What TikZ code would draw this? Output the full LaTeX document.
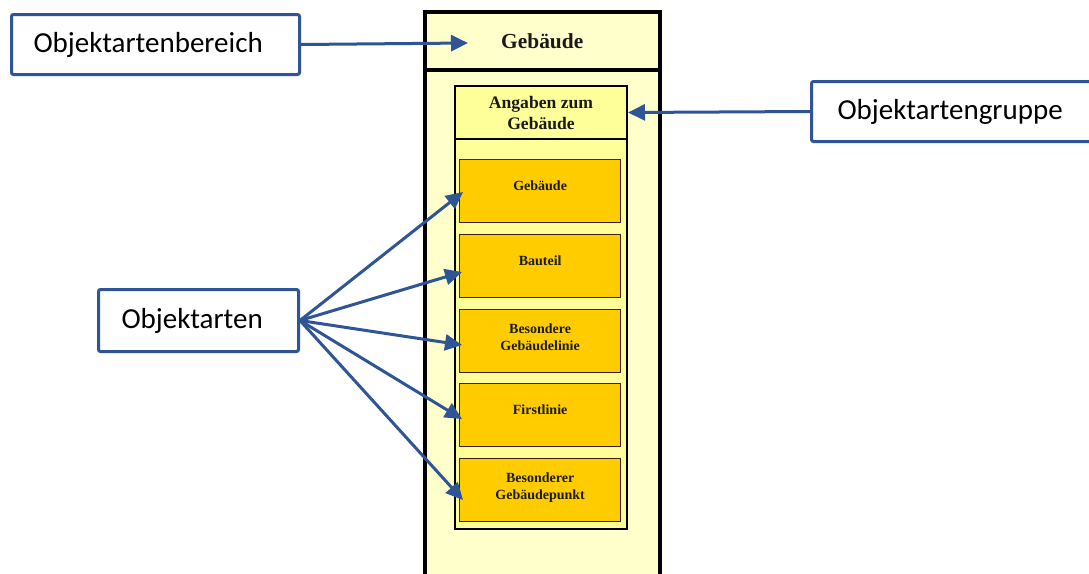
\documentclass[tikz,border=0pt]{standalone}
\usepackage{fontspec}
\setmainfont{Liberation Serif}
\newfontfamily\calib{Carlito}
\usetikzlibrary{arrows.meta}
\definecolor{lblue}{HTML}{2F5597}
\definecolor{paleY}{HTML}{FFFFCC}
\definecolor{midY}{HTML}{FFFF99}
\definecolor{orng}{HTML}{FFCC00}
\definecolor{txtc}{HTML}{1A1A1A}
\begin{document}
\begin{tikzpicture}[x=1pt,y=-1pt,
  outerbox/.style={draw=black,line width=3.5pt,fill=paleY,anchor=north west,inner sep=0pt},
  hdrbox/.style={draw=black,line width=3.5pt,fill=paleY,anchor=north west,inner sep=0pt,text=txtc,font=\bfseries\fontsize{21.4}{25}\selectfont},
  grpbox/.style={draw=black,line width=2pt,fill=midY,anchor=north west,inner sep=0pt},
  grphdr/.style={draw=black,line width=2pt,fill=midY,anchor=north west,inner sep=0pt,align=center,text=txtc,font=\bfseries\fontsize{17.6}{21}\selectfont},
  objbox/.style={draw=black!75!orange,line width=1.3pt,fill=orng,anchor=north west,inner sep=0pt,minimum width=161,minimum height=63},
  objtxt/.style={inner sep=0pt,align=center,text=txtc,font=\bfseries\fontsize{14}{17}\selectfont},
  lblbox/.style={draw=lblue,line width=3pt,fill=white,rounded corners=2pt,anchor=north west,inner ysep=0pt,align=left,font=\calib\fontsize{29}{34}\selectfont},
  arr/.style={draw=lblue,line width=3pt,-{Triangle[length=17pt,width=16pt]}}
]
\clip (0,0) rectangle (1089,573);
\fill[white] (0,0) rectangle (1089,573);
% structure
\node[outerbox,minimum width=235,minimum height=600] (outer) at (423,10) {};
\node[hdrbox,minimum width=235,minimum height=58] (hdr) at (423,10) {Gebäude};
\node[grpbox,minimum width=172,minimum height=443] (grp) at (454,85) {};
\node[grphdr,minimum width=172,minimum height=53] (ghdr) at (454,85) {Angaben zum\\Gebäude};
\node[objbox] (o1) at (459,159) {};
\node[objbox] (o2) at (459,234) {};
\node[objbox] (o3) at (459,309) {};
\node[objbox] (o4) at (459,383) {};
\node[objbox] (o5) at (459,458) {};
\node[objtxt] (o1t) at ([yshift=5pt]o1.center) {Gebäude};
\node[objtxt] (o2t) at ([yshift=5pt]o2.center) {Bauteil};
\node[objtxt] (o3t) at ([yshift=4pt]o3.center) {Besondere\\Gebäudelinie};
\node[objtxt] (o4t) at ([yshift=5pt]o4.center) {Firstlinie};
\node[objtxt] (o5t) at ([yshift=3pt]o5.center) {Besonderer\\Gebäudepunkt};
% labels
\node[lblbox,minimum height=60,inner xsep=22pt,text width=244pt] (ob) at (10,13) {Objektartenbereich};
\node[lblbox,minimum height=60,inner xsep=26pt,text width=260pt] (og) at (810,80) {Objektartengruppe};
\node[lblbox,minimum height=62,inner xsep=23pt,text width=154pt] (oa) at (97,288) {Objektarten};
% arrow targets
\coordinate (t0) at (468,43);
\coordinate (t1) at (463,192);
\coordinate (t2) at (462,272);
\coordinate (t3) at (462,345);
\coordinate (t4) at (462,419);
\coordinate (t5) at (463,500);
% arrows
\draw[arr] (ob.east) -- (t0);
\draw[arr] (og.west) -- (ghdr.east);
\foreach \t in {t1,t2,t3,t4,t5} \draw[arr] (oa.east) -- (\t);
\end{tikzpicture}
\end{document}
